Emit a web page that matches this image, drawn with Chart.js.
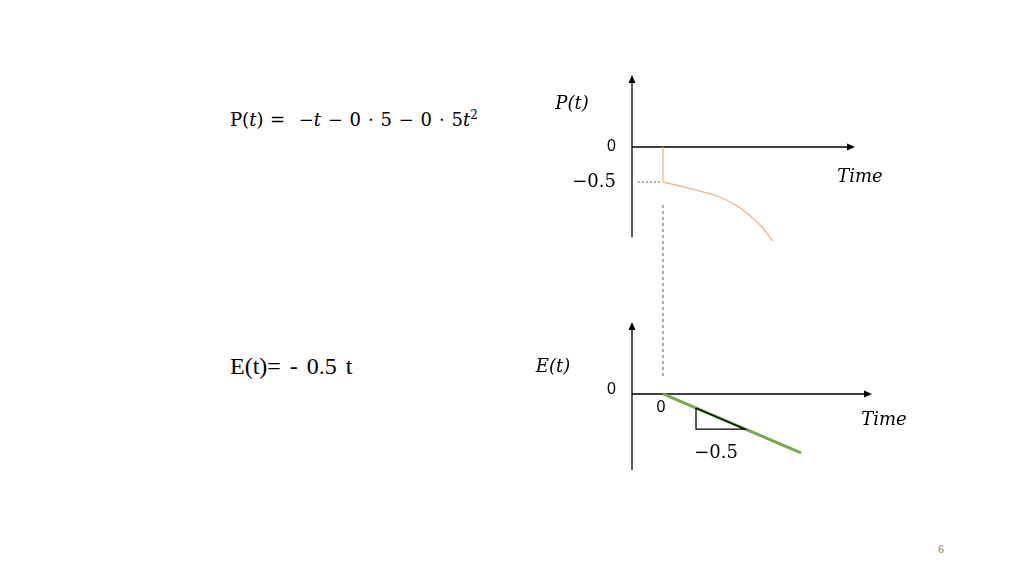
<!DOCTYPE html>
<html>
<head>
<meta charset="utf-8">
<script src="https://cdn.jsdelivr.net/npm/chart.js@4"></script>
<style>
  body { margin: 0; width: 1024px; height: 576px; background: #fff; position: relative; overflow: hidden; }
  canvas { position: absolute; }
  #chartP { left: 540px; top: 60px; }
  #chartE { left: 520px; top: 200px; }
  .txt { position: absolute; white-space: nowrap; color: #000; }
  #formulaP { left: 230px; top: 108px; font-family: "DejaVu Serif", serif; font-size: 18px; word-spacing: 1px; }
  #formulaP i { font-style: italic; }
  #formulaE { left: 230px; top: 353px; font-family: "Liberation Serif", serif; font-size: 24px; word-spacing: 3px; }
  #pageNum { left: 938px; top: 543px; font-family: "Liberation Sans", sans-serif; font-size: 11px; color: #8c8c8c; }
</style>
</head>
<body>
<div class="txt" id="formulaP">P(<i>t</i>) = &nbsp;−<i>t</i> − 0 ⋅ 5 − 0 ⋅ 5<i>t</i><sup style="font-size:12px">2</sup></div>
<div class="txt" id="formulaE">E(t)= - 0.5 t</div>
<div class="txt" id="pageNum">6</div>
<canvas id="chartP" width="360" height="200"></canvas>
<canvas id="chartE" width="400" height="290"></canvas>
<script>
// P(t): salto de 0 para -0.5 em t = 0 e depois a curva
const tempoSalto = [0, 0];
const valorSalto = [0, -0.5];
const tempoP = [0, 0.17, 0.37, 0.54, 0.70, 0.84, 0.97, 1.10];
const valorP = [-0.5, -0.557, -0.629, -0.70, -0.804, -0.947, -1.114, -1.343];

// E(t) = -0.5 t
const tempoE = [0, 1.38];
const valorE = [0, -0.69];
// triângulo da inclinação
const tempoTri = [0.33, 0.33, 0.82, 0.33];
const valorTri = [-0.165, -0.41, -0.41, -0.165];

const rotulosP = [{ v: 0, t: "0" }, { v: -0.5, t: "−0.5" }];
const rotulosE = [{ v: 0, t: "0" }];

const pontos = (xs, ys) => xs.map((x, i) => ({ x: x, y: ys[i] }));

function seta(ctx, x, y, dir) {
    ctx.beginPath();
    if (dir === "up") {
        ctx.moveTo(x, y);
        ctx.lineTo(x - 3.5, y + 8);
        ctx.lineTo(x + 3.5, y + 8);
    } else {
        ctx.moveTo(x, y);
        ctx.lineTo(x - 8, y - 3.5);
        ctx.lineTo(x - 8, y + 3.5);
    }
    ctx.closePath();
    ctx.fill();
}

// desenha eixos com setas, rótulos e linhas-guia
const eixosPlugin = {
    id: "eixos",
    beforeDatasetsDraw(chart, args, opts) {
        const ctx = chart.ctx;
        const px = v => chart.scales.x.getPixelForValue(v);
        const py = v => chart.scales.y.getPixelForValue(v);
        const x0 = px(opts.eixoX), y0 = py(0);
        ctx.save();

        // guias
        ctx.strokeStyle = "#595959";
        ctx.lineWidth = 1;
        (opts.guias || []).forEach(g => {
            ctx.setLineDash(g.dash);
            ctx.beginPath();
            ctx.moveTo(px(g.x1), py(g.y1));
            ctx.lineTo(px(g.x2), py(g.y2));
            ctx.stroke();
        });
        ctx.setLineDash([]);

        // eixo vertical
        ctx.strokeStyle = "#595959";
        ctx.lineWidth = 2;
        ctx.beginPath();
        ctx.moveTo(x0, py(opts.yBaixo));
        ctx.lineTo(x0, py(opts.yTopo) + 6);
        ctx.stroke();
        ctx.fillStyle = "#000";
        seta(ctx, x0, py(opts.yTopo), "up");

        // eixo horizontal
        ctx.strokeStyle = "#000";
        ctx.lineWidth = 1.5;
        ctx.beginPath();
        ctx.moveTo(x0, y0);
        ctx.lineTo(px(opts.xFim) - 6, y0);
        ctx.stroke();
        seta(ctx, px(opts.xFim), y0, "right");

        // rótulos do eixo y
        ctx.textAlign = "right";
        ctx.textBaseline = "middle";
        opts.rotulos.forEach(r => {
            ctx.font = r.t === "0" ? "16px 'Liberation Sans', sans-serif" : "18px 'DejaVu Serif', serif";
            ctx.fillText(r.t, x0 - 16, py(r.v) + (r.dy || 0));
        });

        // textos soltos
        ctx.textAlign = "center";
        (opts.textos || []).forEach(s => {
            ctx.font = s.fonte;
            ctx.fillText(s.t, px(s.x), py(s.y));
        });
        ctx.restore();
    }
};

const escalas = (xmin, xmax, ymin, ymax) => ({
    x: { type: "linear", display: false, min: xmin, max: xmax },
    y: { type: "linear", display: false, min: ymin, max: ymax }
});

const opcoesBase = {
    responsive: false,
    animation: false,
    events: [],
    layout: { padding: 0 },
    plugins: { legend: { display: false }, tooltip: { enabled: false } }
};

new Chart(document.getElementById("chartP"), {
    type: "line",
    data: {
        datasets: [{
            data: pontos(tempoSalto, valorSalto),
            borderColor: "#f4b183",
            borderWidth: 1.3,
            pointRadius: 0,
            tension: 0
        }, {
            data: pontos(tempoP, valorP),
            borderColor: "#f4b183",
            borderWidth: 1.3,
            pointRadius: 0,
            cubicInterpolationMode: "monotone"
        }]
    },
    options: {
        ...opcoesBase,
        scales: escalas(-1.23, 2.37, -1.614, 1.2429),
        plugins: {
            ...opcoesBase.plugins,
            eixos: {
                eixoX: -0.31, xFim: 1.92, yBaixo: -1.29, yTopo: 1.03,
                rotulos: rotulosP,
                guias: [{ x1: -0.25, y1: -0.5, x2: -0.03, y2: -0.5, dash: [2, 2] }],
                textos: [
                    { t: "P(t)", x: -0.91, y: 0.614, fonte: "italic 18px 'DejaVu Serif', serif" },
                    { t: "Time", x: 1.97, y: -0.43, fonte: "italic 18px 'DejaVu Serif', serif" }
                ]
            }
        }
    },
    plugins: [eixosPlugin]
});

new Chart(document.getElementById("chartE"), {
    type: "line",
    data: {
        datasets: [{
            data: pontos(tempoTri, valorTri),
            borderColor: "#000",
            borderWidth: 1.3,
            pointRadius: 0,
            tension: 0
        }, {
            data: pontos(tempoE, valorE),
            borderColor: "#70ad47",
            borderWidth: 3,
            pointRadius: 0,
            tension: 0
        }]
    },
    options: {
        ...opcoesBase,
        scales: escalas(-1.43, 2.57, -1.123, 2.269),
        plugins: {
            ...opcoesBase.plugins,
            eixos: {
                eixoX: -0.31, xFim: 2.09, yBaixo: -0.889, yTopo: 0.842,
                rotulos: rotulosE.map(r => ({ ...r, dy: -4 })),
                guias: [{ x1: 0, y1: 2.21, x2: 0, y2: 0.187, dash: [3, 3] }],
                textos: [
                    { t: "0", x: -0.02, y: -0.16, fonte: "16px 'Liberation Sans', sans-serif" },
                    { t: "−0.5", x: 0.53, y: -0.69, fonte: "18px 'DejaVu Serif', serif" },
                    { t: "E(t)", x: -1.1, y: 0.316, fonte: "italic 18px 'DejaVu Serif', serif" },
                    { t: "Time", x: 2.21, y: -0.304, fonte: "italic 18px 'DejaVu Serif', serif" }
                ]
            }
        }
    },
    plugins: [eixosPlugin]
});
</script>
</body>
</html>
